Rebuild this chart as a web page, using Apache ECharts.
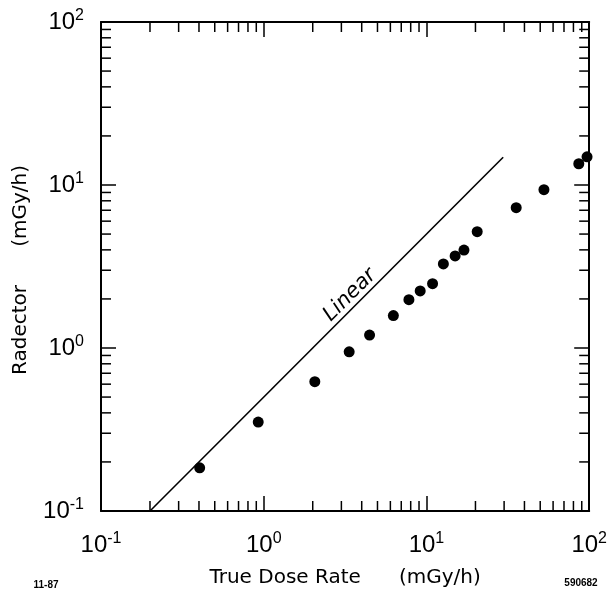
<!DOCTYPE html>
<html><head><meta charset="utf-8">
<script src="https://cdn.jsdelivr.net/npm/echarts@6/dist/echarts.min.js"></script>
<style>html,body{margin:0;padding:0;background:#fff}#c{width:610px;height:598px}</style>
</head><body><div id="c"></div>
<script>
// Data
const trueDose = [0.404, 0.925, 2.06, 3.35, 4.47, 6.26, 7.80, 9.15, 10.9, 12.7, 15.0, 17.0, 20.5, 35.6, 52.7, 86.3, 97.0];
const radector = [0.184, 0.351, 0.621, 0.948, 1.20, 1.58, 1.98, 2.24, 2.48, 3.28, 3.67, 3.99, 5.17, 7.26, 9.36, 13.5, 14.9];
const linearX = [0.2, 29.6];
const linearY = [0.1, 14.8];
const decades = [0.1, 1, 10, 100];
const minorMultipliers = [2, 3, 4, 5, 6, 7, 8, 9];

const minorTicks = [];
decades.slice(0, 3).forEach(d => minorMultipliers.forEach(m => minorTicks.push(+(d * m).toPrecision(3))));

const FONT = 'Liberation Sans';
const NAMEFONT = 'DejaVu Sans';
function expLabel(v) {
  const e = Math.round(Math.log10(v));
  return '{b|10}{s|' + (e < 0 ? '-' + (-e) : e) + '}';
}
const rich = {
  b: { fontSize: 24, lineHeight: 28, fontFamily: FONT, color: '#000' },
  s: { fontSize: 16, lineHeight: 16, verticalAlign: 'top', fontFamily: FONT, color: '#000' }
};
const axisLine = { show: true, onZero: false, lineStyle: { color: '#000', width: 2 } };
const majorTick = { show: true, inside: true, length: 15, lineStyle: { color: '#000', width: 1.5 } };

const chart = echarts.init(document.getElementById('c'));
chart.setOption({
  animation: false,
  backgroundColor: '#fff',
  grid: { left: 101, right: 19, top: 22, bottom: 87 },
  xAxis: [
    { type: 'log', logBase: 10, min: 0.1, max: 100, position: 'bottom',
      axisLine, axisTick: majorTick, splitLine: { show: false },
      axisLabel: { formatter: expLabel, rich, margin: 20 },
      name: 'True Dose Rate      (mGy/h)', nameLocation: 'middle', nameGap: 57,
      nameTextStyle: { fontSize: 20, fontFamily: NAMEFONT, color: '#000' } },
    { type: 'log', logBase: 10, min: 0.1, max: 100, position: 'top',
      axisLine, axisTick: majorTick, splitLine: { show: false }, axisLabel: { show: false } }
  ],
  yAxis: [
    { type: 'log', logBase: 10, min: 0.1, max: 100, position: 'left',
      axisLine, axisTick: majorTick, splitLine: { show: false },
      axisLabel: { formatter: expLabel, rich, margin: 17 } },
    { type: 'log', logBase: 10, min: 0.1, max: 100, position: 'right',
      axisLine, axisTick: majorTick, splitLine: { show: false }, axisLabel: { show: false } }
  ],
  graphic: [
    { type: 'text', x: 21, y: 270, rotation: Math.PI / 2, silent: true,
      style: { text: 'Radector      (mGy/h)', fontSize: 20, fontFamily: NAMEFONT, fill: '#000',
               align: 'center', verticalAlign: 'middle' } },
    { type: 'text', x: 350, y: 295, rotation: Math.PI / 4, silent: true,
      style: { text: 'Linear', fontSize: 21, fontStyle: 'italic', fontFamily: NAMEFONT, fill: '#000',
               align: 'center', verticalAlign: 'middle' } },
    { type: 'text', x: 46, y: 585, silent: true,
      style: { text: '11-87', fontSize: 10, fontWeight: 'bold', fontFamily: FONT, fill: '#000',
               align: 'center', verticalAlign: 'middle' } },
    { type: 'text', x: 581, y: 583, silent: true,
      style: { text: '590682', fontSize: 10, fontWeight: 'bold', fontFamily: FONT, fill: '#000',
               align: 'center', verticalAlign: 'middle' } }
  ],
  series: [
    { type: 'line', data: linearX.map((x, i) => [x, linearY[i]]), symbol: 'none',
      lineStyle: { color: '#000', width: 1.6 }, silent: true },
    { type: 'scatter', data: trueDose.map((x, i) => [x, radector[i]]), symbolSize: 11,
      itemStyle: { color: '#000', opacity: 1 }, silent: true },
    { type: 'custom', silent: true, clip: false,
      data: minorTicks.map(v => [v, 1]),
      renderItem(params, api) {
        const cs = params.coordSys;
        const px = api.coord([api.value(0), 1])[0];
        const st = { stroke: '#000', lineWidth: 1.5 };
        return { type: 'group', children: [
          { type: 'line', shape: { x1: px, y1: cs.y + cs.height, x2: px, y2: cs.y + cs.height - 10 }, style: st },
          { type: 'line', shape: { x1: px, y1: cs.y, x2: px, y2: cs.y + 10 }, style: st }
        ]};
      } },
    { type: 'custom', silent: true, clip: false,
      data: minorTicks.map(v => [1, v]),
      renderItem(params, api) {
        const cs = params.coordSys;
        const py = api.coord([1, api.value(1)])[1];
        const st = { stroke: '#000', lineWidth: 1.5 };
        return { type: 'group', children: [
          { type: 'line', shape: { x1: cs.x, y1: py, x2: cs.x + 10, y2: py }, style: st },
          { type: 'line', shape: { x1: cs.x + cs.width, y1: py, x2: cs.x + cs.width - 10, y2: py }, style: st }
        ]};
      } }
  ]
});
</script>
</body></html>
